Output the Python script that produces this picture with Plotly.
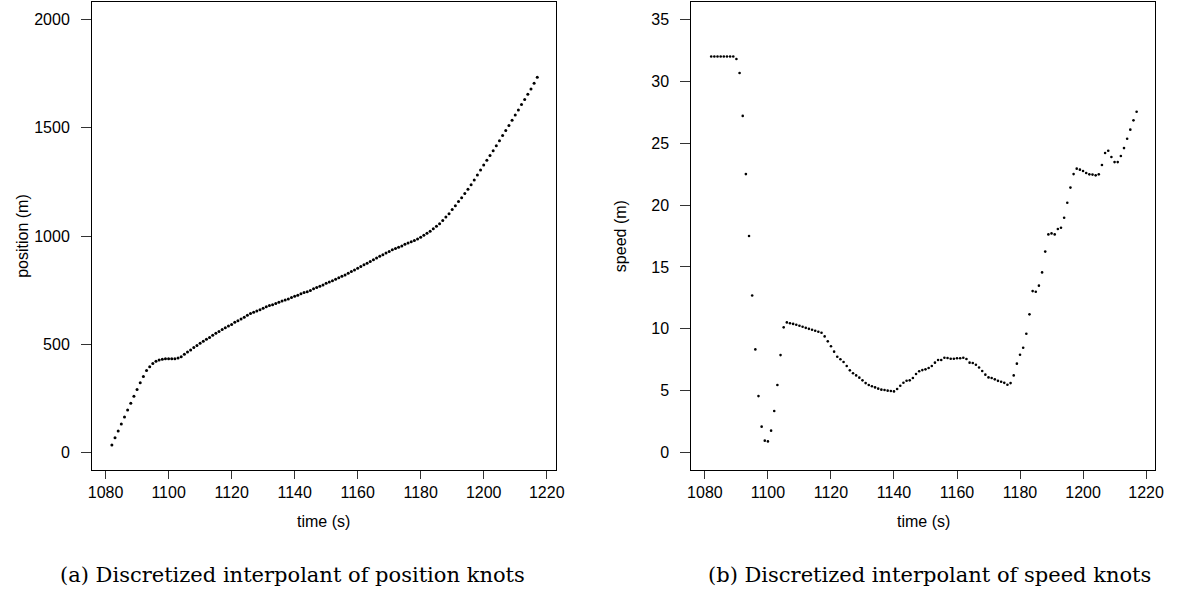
import plotly.graph_objects as go

# time grid (s) – one knot per second
time_s = list(range(1082, 1218))

position_m = [
    35, 69, 100, 132, 165, 197, 228, 260, 292, 323,
    352, 379, 397, 411, 422, 428, 431, 433, 433, 433,
    434, 437, 443, 454, 465, 474, 485, 495, 505, 514,
    523, 532, 542, 551, 559, 568, 577, 585, 592, 602,
    609, 617, 625, 634, 642,
    648, 654, 660, 666, 673, 679, 683, 689, 694, 700,
    705, 709, 716, 722, 726, 733, 739, 743, 749, 756,
    762, 768, 774, 782, 788, 794, 800, 807, 814, 820,
    828, 836, 843, 851, 859, 867, 874, 882, 890, 899,
    906, 914, 922, 928, 936, 942, 948, 954,
    962, 968, 973, 979, 986, 994, 1003, 1013, 1022, 1033,
    1045, 1057, 1071, 1088, 1103, 1122, 1140, 1159, 1177, 1196,
    1216, 1236, 1259, 1282, 1305, 1328, 1350, 1371, 1394, 1417,
    1440, 1464, 1487, 1510, 1534, 1559, 1582, 1607, 1630, 1654,
    1679, 1705, 1733,
]

speed_ms = [
    32.0, 32.0, 32.0, 32.0, 32.0, 32.0, 32.0, 32.0, 31.8, 30.66,
    27.2, 22.5, 17.5, 12.7, 8.34, 4.57, 2.1, 0.97, 0.91, 1.78,
    3.36, 5.46, 7.88, 10.12, 10.52, 10.45, 10.4, 10.33, 10.25, 10.17,
    10.08, 10.0, 9.93, 9.85, 9.77, 9.69, 9.39, 8.99, 8.59, 8.16,
    7.75, 7.54, 7.32, 7.0, 6.65, 6.41, 6.24, 6.06, 5.84, 5.62,
    5.46, 5.36, 5.27, 5.17, 5.09, 5.06, 5.01, 4.98, 4.95, 5.14,
    5.41, 5.65, 5.81, 5.84, 6.03, 6.35, 6.57, 6.67, 6.73, 6.84,
    7.0, 7.27, 7.48, 7.48, 7.67, 7.65, 7.59, 7.59, 7.62, 7.62,
    7.67, 7.56, 7.27, 7.24, 7.1, 6.88, 6.6, 6.3, 6.08, 6.03,
    5.92, 5.8, 5.73, 5.64, 5.49, 5.62, 6.24, 7.19, 7.91, 8.48,
    9.61, 11.17, 13.05, 13.0, 13.49, 14.56, 16.24, 17.63, 17.71, 17.63,
    18.06, 18.17, 18.98, 20.19, 21.41, 22.5, 22.94, 22.86, 22.75, 22.59,
    22.48, 22.46, 22.4, 22.48, 23.23, 24.2, 24.39, 23.88, 23.47, 23.47,
    23.96, 24.6, 25.36, 26.09, 26.84, 27.54,
]

x_ticks = [1080, 1100, 1120, 1140, 1160, 1180, 1200, 1220]
pos_ticks = [0, 500, 1000, 1500, 2000]
speed_ticks = [0, 5, 10, 15, 20, 25, 30, 35]

W, H = 1183, 602
TICK_FONT = dict(family="Liberation Sans, Arial, sans-serif", size=16, color="black")
TITLE_FONT = dict(family="Liberation Sans, Arial, sans-serif", size=16, color="black")
CAP_FONT = dict(family="DejaVu Serif, Liberation Serif, serif", size=21, color="black")

fig = go.Figure()
fig.add_trace(go.Scatter(x=time_s, y=position_m, mode="markers",
                         marker=dict(size=3, color="black"),
                         xaxis="x", yaxis="y", showlegend=False))
fig.add_trace(go.Scatter(x=time_s, y=speed_ms, mode="markers",
                         marker=dict(size=2.6, color="black"),
                         xaxis="x2", yaxis="y2", showlegend=False))

def px_x(p):
    return p / W

def px_y(p):
    return 1 - p / H

base = dict(showline=True, mirror=True, linecolor="black", linewidth=1,
            ticks="outside", tickcolor="#333", tickwidth=1,
            showgrid=False, zeroline=False, tickfont=TICK_FONT)
x_axis_style = dict(base, ticklen=8)
y_axis_style = dict(base, ticklen=10, ticklabelstandoff=8)

fig.update_layout(
    width=W, height=H,
    margin=dict(l=0, r=0, t=0, b=0),
    paper_bgcolor="white", plot_bgcolor="white",
    xaxis=dict(domain=[px_x(89), px_x(558)], range=[1075.7, 1222.9],
               tickvals=x_ticks, anchor="y", **x_axis_style),
    yaxis=dict(domain=[px_y(470), px_y(2)], range=[-80, 2080],
               tickvals=pos_ticks, anchor="x", **y_axis_style),
    xaxis2=dict(domain=[px_x(695), px_x(1164)], range=[1075.7, 1222.9],
                tickvals=x_ticks, anchor="y2", **x_axis_style),
    yaxis2=dict(domain=[px_y(470), px_y(2)], range=[-1.4, 36.4],
                tickvals=speed_ticks, anchor="x2", **y_axis_style),
)

annotations = [
    dict(text="time (s)", x=px_x(323.5), y=px_y(521), font=TITLE_FONT),
    dict(text="time (s)", x=px_x(929.5), y=px_y(521), font=TITLE_FONT),
    dict(text="position (m)", x=px_x(18), y=px_y(236), font=TITLE_FONT, textangle=-90),
    dict(text="speed (m)", x=px_x(623), y=px_y(236), font=TITLE_FONT, textangle=-90),
    dict(text="(a) Discretized interpolant of position knots", x=px_x(292), y=px_y(575), font=CAP_FONT),
    dict(text="(b) Discretized interpolant of speed knots", x=px_x(936), y=px_y(575), font=CAP_FONT),
]
for a in annotations:
    a.update(xref="paper", yref="paper", showarrow=False, xanchor="center", yanchor="middle")
fig.update_layout(annotations=annotations)

fig.write_html("out.html")
